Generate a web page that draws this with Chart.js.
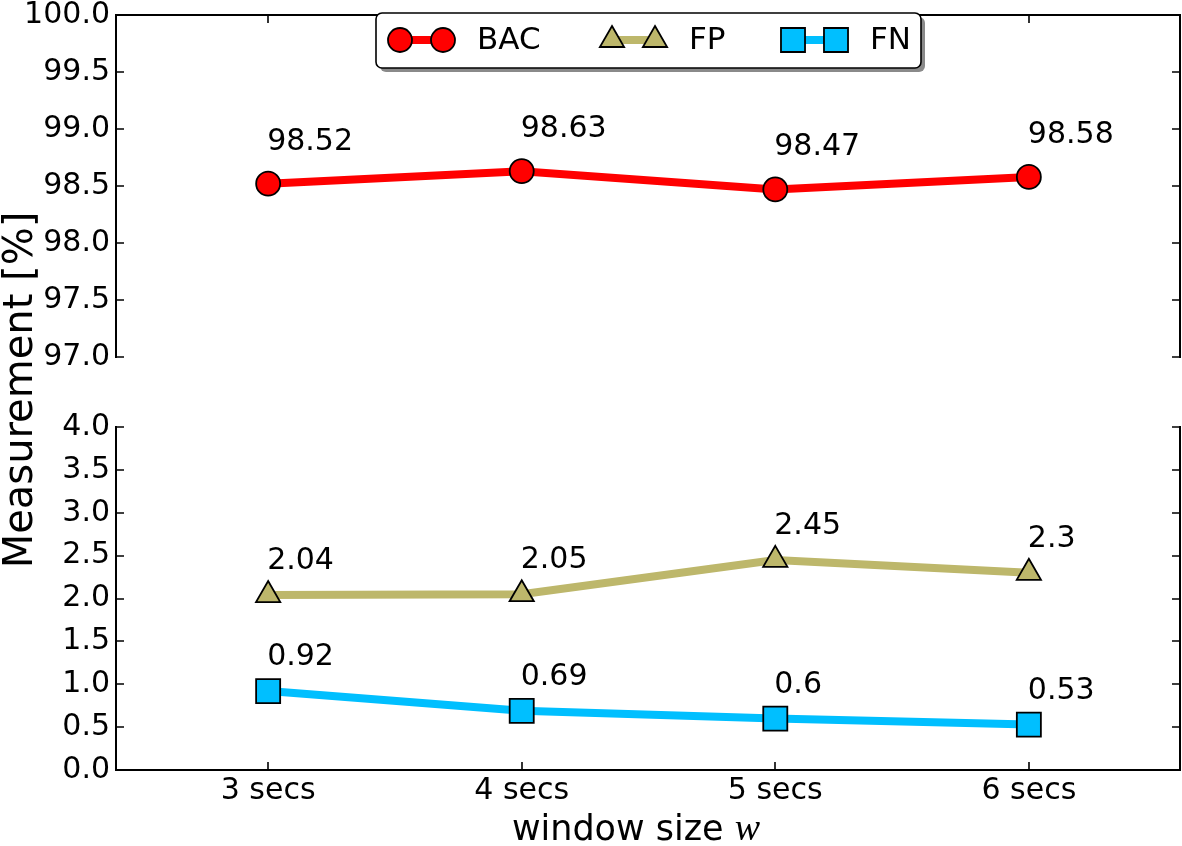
<!DOCTYPE html>
<html>
<head>
<meta charset="utf-8">
<script src="https://cdn.jsdelivr.net/npm/chart.js@4.4.1/dist/chart.umd.min.js"></script>
<style>
  html, body { margin: 0; padding: 0; background: #fff; }
  #wrap { position: relative; width: 1182px; height: 846px; }
  #wrap canvas { position: absolute; left: 0; top: 0; }
</style>
</head>
<body>
<div id="wrap">
  <canvas id="topChart" width="1182" height="846"></canvas>
  <canvas id="bottomChart" width="1182" height="846"></canvas>
</div>
<script>
// window sizes (x) and their tick labels
const windowSecs = [3, 4, 5, 6];
const windowLabels = ["3 secs", "4 secs", "5 secs", "6 secs"];

// measurements in %
const bacValues = [98.52, 98.63, 98.47, 98.58];
const fpValues = [2.04, 2.05, 2.45, 2.3];
const fnValues = [0.92, 0.69, 0.6, 0.53];

// y ticks of the two panels (broken axis)
const topTicks = [97.0, 97.5, 98.0, 98.5, 99.0, 99.5, 100.0];
const bottomTicks = [0.0, 0.5, 1.0, 1.5, 2.0, 2.5, 3.0, 3.5, 4.0];

const FONT = "DejaVu Sans";
const LEFT_W = 116;

const bacStyle = { label: "BAC", color: "#ff0000", pointStyle: "circle", radius: 12 };
const fpStyle = { label: "FP", color: "#bdb76b", pointStyle: "triangle", radius: 14 };
const fnStyle = { label: "FN", color: "#00bfff", pointStyle: "rect", radius: 17 };

function makeDataset(style, values) {
    return {
        label: style.label,
        data: windowSecs.map((x, i) => ({ x: x, y: values[i] })),
        borderColor: style.color,
        backgroundColor: style.color,
        borderWidth: 8,
        tension: 0,
        clip: false,
        pointStyle: style.pointStyle,
        pointRadius: style.radius,
        pointBackgroundColor: style.color,
        pointBorderColor: "#000",
        pointBorderWidth: 1.8
    };
}

// spines + inward ticks, matplotlib style
const framePlugin = {
    id: "frame",
    afterDatasetsDraw(chart, args, opts) {
        const ctx = chart.ctx;
        const a = chart.chartArea;
        const ys = chart.scales.y;
        const xs = chart.scales.x;
        ctx.save();
        ctx.strokeStyle = "#000";
        ctx.lineWidth = 2;
        ctx.lineCap = "square";
        ctx.beginPath();
        ctx.moveTo(a.left, a.top); ctx.lineTo(a.left, a.bottom);
        ctx.moveTo(a.right - 1, a.top); ctx.lineTo(a.right - 1, a.bottom);
        if (opts.edge === "top") {
            ctx.moveTo(a.left, a.top); ctx.lineTo(a.right - 1, a.top);
        } else {
            ctx.moveTo(a.left, a.bottom); ctx.lineTo(a.right - 1, a.bottom);
        }
        ctx.stroke();

        ctx.lineWidth = 1.6;
        ctx.lineCap = "butt";
        ctx.beginPath();
        ys.ticks.forEach(t => {
            const py = Math.round(ys.getPixelForValue(t.value));
            ctx.moveTo(a.left, py); ctx.lineTo(a.left + 8, py);
            ctx.moveTo(a.right - 1, py); ctx.lineTo(a.right - 9, py);
        });
        windowSecs.forEach(v => {
            const px = Math.round(xs.getPixelForValue(v));
            if (opts.edge === "top") {
                ctx.moveTo(px, a.top); ctx.lineTo(px, a.top + 8);
            } else {
                ctx.moveTo(px, a.bottom); ctx.lineTo(px, a.bottom - 8);
            }
        });
        ctx.stroke();
        ctx.restore();
    }
};

// value labels above each point
const valueLabelPlugin = {
    id: "valueLabels",
    afterDatasetsDraw(chart) {
        const ctx = chart.ctx;
        const ys = chart.scales.y;
        ctx.save();
        ctx.fillStyle = "#000";
        ctx.font = "30px '" + FONT + "'";
        ctx.textAlign = "left";
        ctx.textBaseline = "alphabetic";
        chart.data.datasets.forEach((ds, di) => {
            const meta = chart.getDatasetMeta(di);
            meta.data.forEach((pt, i) => {
                const v = ds.data[i].y;
                ctx.fillText(String(v), pt.x - 1, ys.getPixelForValue(v + 0.3));
            });
        });
        ctx.restore();
    }
};

// legend box (two markers per handle) and axis titles
const extrasPlugin = {
    id: "extras",
    afterDraw(chart) {
        const ctx = chart.ctx;
        ctx.save();

        // legend
        const bx = 376, by = 13, bw = 545, bh = 55;
        ctx.fillStyle = "#8a8a8a";
        ctx.beginPath();
        ctx.roundRect(bx + 4, by + 4, bw, bh, 6);
        ctx.fill();
        ctx.fillStyle = "#fff";
        ctx.strokeStyle = "#000";
        ctx.lineWidth = 1.6;
        ctx.beginPath();
        ctx.roundRect(bx, by, bw, bh, 6);
        ctx.fill();
        ctx.stroke();

        const cy = 40;
        const starts = [400, 612, 793];
        [bacStyle, fpStyle, fnStyle].forEach((s, i) => {
            const x1 = starts[i], x2 = x1 + 43;
            ctx.strokeStyle = s.color;
            ctx.lineWidth = 8;
            ctx.beginPath();
            ctx.moveTo(x1, cy); ctx.lineTo(x2, cy);
            ctx.stroke();
            ctx.fillStyle = s.color;
            ctx.strokeStyle = "#000";
            ctx.lineWidth = 1.8;
            [x1, x2].forEach(px => {
                Chart.helpers.drawPoint(ctx, {
                    pointStyle: s.pointStyle, radius: s.radius, borderWidth: 1.8, rotation: 0
                }, px, cy);
            });
            ctx.fillStyle = "#000";
            ctx.font = "31px '" + FONT + "'";
            ctx.textAlign = "left";
            ctx.textBaseline = "middle";
            ctx.fillText(s.label, x2 + 34, cy + 1);
        });

        // y title, shared by both panels
        ctx.fillStyle = "#000";
        ctx.save();
        ctx.translate(32, 390);
        ctx.rotate(-Math.PI / 2);
        ctx.font = "40px '" + FONT + "'";
        ctx.textAlign = "center";
        ctx.textBaseline = "alphabetic";
        ctx.fillText("Measurement [%]", 0, 0);
        ctx.restore();

        // x title with math italic w
        const part1 = "window size ";
        ctx.font = "35px '" + FONT + "'";
        const w1 = ctx.measureText(part1).width;
        ctx.font = "italic 38px 'Liberation Serif'";
        const w2 = ctx.measureText("w").width;
        const x0 = 636 - (w1 + w2) / 2;
        ctx.textAlign = "left";
        ctx.textBaseline = "alphabetic";
        ctx.font = "35px '" + FONT + "'";
        ctx.fillText(part1, x0, 840);
        ctx.font = "italic 38px 'Liberation Serif'";
        ctx.fillText("w", x0 + w1, 840);

        ctx.restore();
    }
};

function yScale(min, max, ticks) {
    return {
        type: "linear",
        min: min,
        max: max,
        afterFit: s => {
            s.width = LEFT_W;
            s.paddingTop = 0;
            s.paddingBottom = 0;
        },
        afterBuildTicks: s => { s.ticks = ticks.map(v => ({ value: v })); },
        ticks: {
            callback: v => Number(v).toFixed(1),
            font: { family: FONT, size: 30, lineHeight: 1 },
            color: "#000",
            padding: 6,
            autoSkip: false
        },
        grid: { display: false, drawTicks: false },
        border: { display: false }
    };
}

function xScale(show) {
    const sc = {
        type: "linear",
        min: 2.4,
        max: 6.6,
        display: show,
        afterBuildTicks: s => { s.ticks = windowSecs.map(v => ({ value: v })); },
        ticks: {
            callback: v => windowLabels[windowSecs.indexOf(v)],
            font: { family: FONT, size: 30 },
            color: "#000",
            padding: 3,
            maxRotation: 0,
            autoSkip: false
        },
        grid: { display: false, drawTicks: false },
        border: { display: false }
    };
    if (show) {
        sc.afterFit = s => {
            s.height = 76;
            s.paddingLeft = 0;
            s.paddingRight = 0;
        };
    }
    return sc;
}

const common = {
    responsive: false,
    animation: false,
    events: [],
    plugins: {
        legend: { display: false },
        tooltip: { enabled: false }
    }
};

const topChart = new Chart(document.getElementById("topChart").getContext("2d"), {
    type: "line",
    data: { datasets: [makeDataset(bacStyle, bacValues)] },
    options: {
        ...common,
        layout: { autoPadding: false, padding: { top: 15, right: 1, bottom: 846 - 357, left: 0 } },
        plugins: { ...common.plugins, frame: { edge: "top" } },
        scales: { x: xScale(false), y: yScale(97, 100, topTicks) }
    },
    plugins: [framePlugin, valueLabelPlugin]
});

const bottomChart = new Chart(document.getElementById("bottomChart").getContext("2d"), {
    type: "line",
    data: { datasets: [makeDataset(fpStyle, fpValues), makeDataset(fnStyle, fnValues)] },
    options: {
        ...common,
        layout: { autoPadding: false, padding: { top: 427, right: 1, bottom: 0, left: 0 } },
        plugins: { ...common.plugins, frame: { edge: "bottom" } },
        scales: { x: xScale(true), y: yScale(0, 4, bottomTicks) }
    },
    plugins: [framePlugin, valueLabelPlugin, extrasPlugin]
});
</script>
</body>
</html>
